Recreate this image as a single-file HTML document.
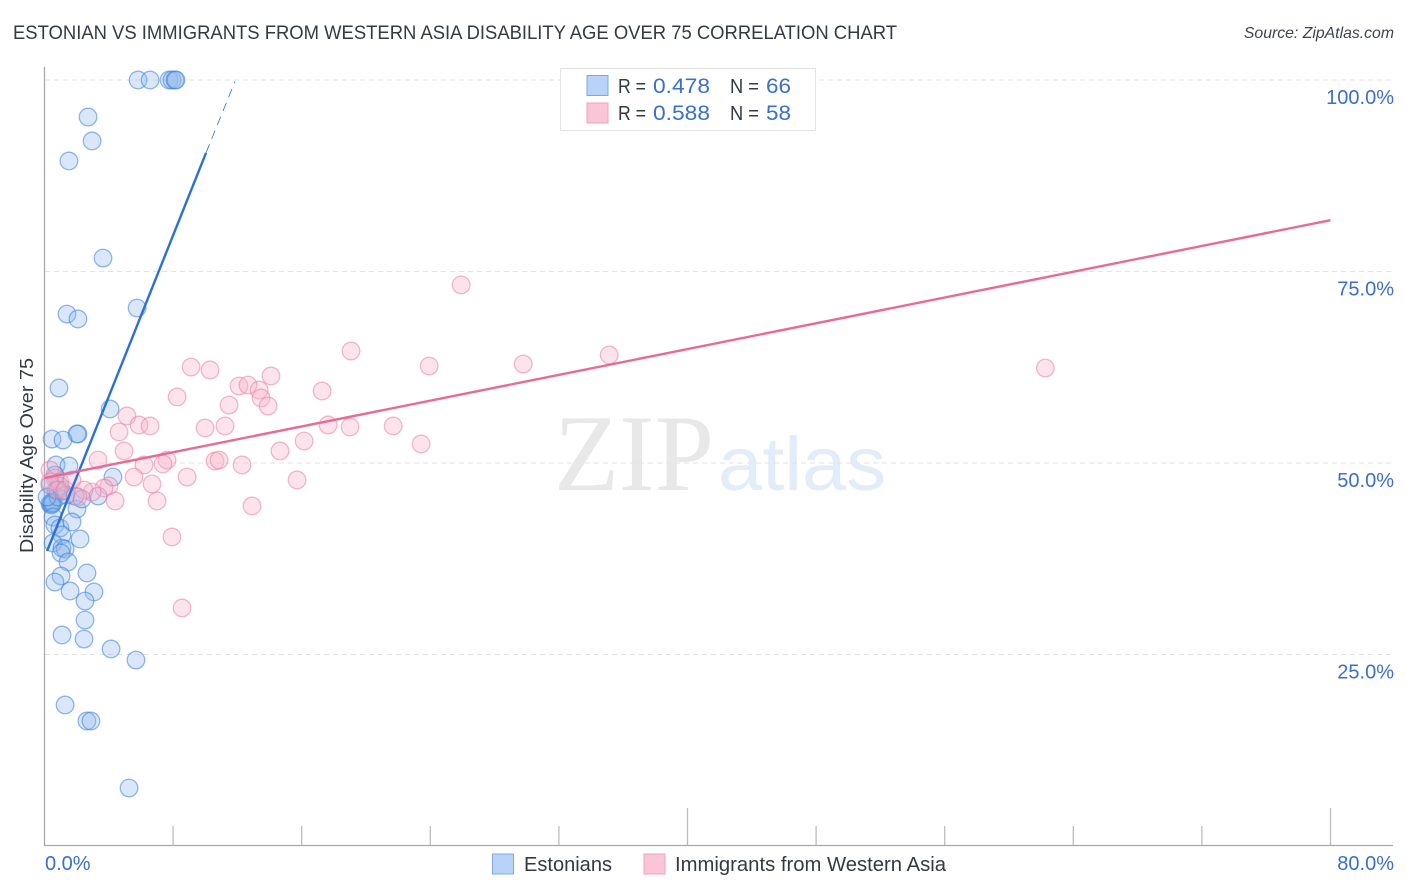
<!DOCTYPE html>
<html>
<head>
<meta charset="utf-8">
<style>
html,body{margin:0;padding:0;background:#fff;}
svg{display:block;}
text{font-family:"Liberation Sans",sans-serif;}
</style>
</head>
<body>
<svg id="chart" xmlns="http://www.w3.org/2000/svg" width="1406" height="892" viewBox="0 0 1406 892">
  <rect x="0" y="0" width="1406" height="892" fill="#ffffff"/>
  <text x="13" y="39" font-size="19.5" fill="#333a44" textLength="884" lengthAdjust="spacingAndGlyphs">ESTONIAN VS IMMIGRANTS FROM WESTERN ASIA DISABILITY AGE OVER 75 CORRELATION CHART</text>
  <text x="1394" y="38" font-size="15.8" font-style="italic" fill="#3d4450" text-anchor="end">Source: ZipAtlas.com</text>
  <g id="watermark">
    <text x="554" y="490" font-size="109" fill="#e8e8e8" style="font-family:'Liberation Serif',serif" textLength="160" lengthAdjust="spacingAndGlyphs">ZIP</text>
    <text x="718" y="490" font-size="76" fill="#e3ecf9" textLength="168" lengthAdjust="spacingAndGlyphs">atlas</text>
  </g>
  <g id="grid"></g>
  <g id="axes"></g>
  <g id="points-blue"></g>
  <g id="points-pink"></g>
  <g id="trends"></g>
  <g id="labels"></g>
  <text transform="translate(33,553) rotate(-90)" font-size="18.5" fill="#333a44" textLength="195" lengthAdjust="spacingAndGlyphs">Disability Age Over 75</text>

  <g>
    <rect x="560.5" y="68.5" width="255" height="62" fill="#ffffff" stroke="#e2e2e2" stroke-width="1"/>
    <rect x="587" y="75.5" width="21" height="20" fill="#b9d3f8" stroke="#7fa9dc" stroke-width="1"/>
    <rect x="587" y="103" width="21" height="20" fill="#fac5d7" stroke="#f0a3bb" stroke-width="1"/>
    <text x="618" y="93" font-size="20" fill="#333a44" textLength="28" lengthAdjust="spacingAndGlyphs">R =</text>
    <text x="653" y="93" font-size="21" fill="#3a6fd0" textLength="57" lengthAdjust="spacingAndGlyphs">0.478</text>
    <text x="730" y="93" font-size="20" fill="#333a44" textLength="29" lengthAdjust="spacingAndGlyphs">N =</text>
    <text x="766" y="93" font-size="21" fill="#3a6fd0" textLength="25" lengthAdjust="spacingAndGlyphs">66</text>
    <text x="618" y="120" font-size="20" fill="#333a44" textLength="28" lengthAdjust="spacingAndGlyphs">R =</text>
    <text x="653" y="120" font-size="21" fill="#3a6fd0" textLength="57" lengthAdjust="spacingAndGlyphs">0.588</text>
    <text x="730" y="120" font-size="20" fill="#333a44" textLength="29" lengthAdjust="spacingAndGlyphs">N =</text>
    <text x="766" y="120" font-size="21" fill="#3a6fd0" textLength="25" lengthAdjust="spacingAndGlyphs">58</text>
  </g>

  <g>
    <rect x="492.5" y="854" width="21" height="20" fill="#b9d3f8" stroke="#7fa9dc" stroke-width="1"/>
    <text x="524" y="871" font-size="20" fill="#333a44" textLength="88" lengthAdjust="spacingAndGlyphs">Estonians</text>
    <rect x="644" y="854" width="21" height="20" fill="#fac5d7" stroke="#f0a3bb" stroke-width="1"/>
    <text x="675" y="871" font-size="20" fill="#333a44" textLength="271" lengthAdjust="spacingAndGlyphs">Immigrants from Western Asia</text>
  </g>
</svg>
<script>
var yTickValues = [25, 50, 75, 100];
var yTickLabels = ["25.0%", "50.0%", "75.0%", "100.0%"];
var xTickValues = [8, 16, 24, 32, 40, 48, 56, 64, 72, 80];
var xMajorTicks = [40, 80];
var xEndLabels = ["0.0%", "80.0%"];

var estoniansX = [5.82,6.57,7.75,7.93,8.12,8.18,2.71,2.96,1.52,3.64,5.76,1.40,2.08,0.90,4.08,2.08,2.02,0.47,1.15,0.72,1.52,4.26,0.65,3.33,2.02,0.47,0.40,0.34,0.43,0.47,0.53,0.84,1.09,0.96,0.72,0.34,1.34,1.90,0.16,2.33,0.53,0.65,0.96,1.71,2.21,1.09,0.53,1.09,1.28,1.03,1.46,2.64,1.03,0.65,1.59,3.08,2.52,2.52,1.09,2.46,4.14,5.69,1.28,2.64,2.89,5.26];
var estoniansY = [100,100,100,100,100,100,95.17,92.04,89.43,76.76,70.23,69.45,68.80,59.79,57.05,53.79,53.79,53.13,53.00,49.74,49.61,48.17,48.43,45.69,43.99,44.91,44.78,44.65,44.52,44.65,44.78,45.56,46.34,47.00,46.47,47.13,45.82,45.69,45.56,45.30,42.95,41.91,41.51,42.30,40.08,40.60,39.56,38.90,38.77,38.25,37.08,35.64,35.25,34.46,33.29,33.16,31.98,29.50,27.55,27.02,25.72,24.28,18.41,16.32,16.32,7.57];

var immigrantsX = [25.92,19.07,35.13,23.93,29.78,62.26,9.12,10.30,14.09,12.10,12.66,13.35,17.27,8.25,13.47,13.91,11.48,5.13,5.88,6.57,4.64,9.99,11.23,17.64,19.01,21.69,23.43,16.15,14.65,4.95,3.33,7.62,7.37,6.19,10.61,10.86,12.29,8.87,5.57,6.69,15.71,4.01,3.70,2.96,2.46,4.39,7.00,12.91,7.93,8.56,0.34,0.65,0.96,0.34,0.84,1.28,1.71,2.08];
var immigrantsY = [73.25,64.62,64.10,62.66,62.92,62.40,62.53,62.14,61.36,60.05,60.18,59.53,59.40,58.62,58.49,57.44,57.57,56.14,54.96,54.83,54.05,54.57,54.83,54.96,54.70,54.83,52.48,52.87,51.57,51.57,50.39,50.39,49.87,49.74,50.26,50.39,49.74,48.17,48.17,47.26,47.78,47.00,46.74,46.21,46.47,45.04,45.04,44.39,40.34,31.07,49.09,48.04,47.52,47.52,46.47,46.47,47.78,45.56];

var estoniansTrendX = [0.16, 10.05];
var estoniansTrendY = [38.5, 90.5];
var estoniansTrendExtX = [10.05, 11.85];
var estoniansTrendExtY = [90.5, 99.8];
var immigrantsTrendX = [0, 80];
var immigrantsTrendY = [48.04, 81.7];

var SVGNS = "http://www.w3.org/2000/svg";
function xScale(v){ return 44.5 + v * (1330.5 - 44.5) / 80; }
function yScale(v){ return 846 - v * 7.66; }
function make(tag, attrs, parent){
  var el = document.createElementNS(SVGNS, tag);
  for (var k in attrs) el.setAttribute(k, attrs[k]);
  parent.appendChild(el);
  return el;
}

var grid = document.getElementById("grid");
yTickValues.forEach(function(v){
  var l = make("line", {x1:45, x2:1393, y1:yScale(v), y2:yScale(v), stroke:"#e3e3e3", "stroke-width":1, "stroke-dasharray":"5 4"}, grid);
  
  
});

var axes = document.getElementById("axes");
var yAxis = make("line", {x1:44.5, x2:44.5, y1:67, y2:846, stroke:"#a8a8a8", "stroke-width":1.3}, axes);


var xAxis = make("line", {x1:44, x2:1393, y1:845.5, y2:845.5, stroke:"#a8a8a8", "stroke-width":1.3}, axes);


xTickValues.forEach(function(v){
  var top = xMajorTicks.indexOf(v) >= 0 ? 808 : 826;
  var t = make("line", {x1:xScale(v), x2:xScale(v), y1:top, y2:845, stroke:"#bdbdbd", "stroke-width":1.3}, axes);
  
  
});

function drawPoints(groupId, xs, ys, fill, stroke, name){
  var g = document.getElementById(groupId);
  xs.forEach(function(x, i){
    var c = make("circle", {cx:xScale(x), cy:yScale(ys[i]), r:8.8, fill:fill, "fill-opacity":0.34, stroke:stroke, "stroke-opacity":0.55, "stroke-width":1.3}, g);
    
    
  });
}
drawPoints("points-blue", estoniansX, estoniansY, "#8fb8ee", "#3d80db", "estonians-point");
drawPoints("points-pink", immigrantsX, immigrantsY, "#f8afc6", "#ea7fa3", "immigrants-point");

var trends = document.getElementById("trends");
var t1 = make("line", {x1:xScale(estoniansTrendX[0]), y1:yScale(estoniansTrendY[0]), x2:xScale(estoniansTrendX[1]), y2:yScale(estoniansTrendY[1]), stroke:"#2b70d8", "stroke-width":2.4}, trends);


var t2 = make("line", {x1:xScale(estoniansTrendExtX[0]), y1:yScale(estoniansTrendExtY[0]), x2:xScale(estoniansTrendExtX[1]), y2:yScale(estoniansTrendExtY[1]), stroke:"#2b70d8", "stroke-width":0.8, "stroke-dasharray":"9 6"}, trends);


var t3 = make("line", {x1:xScale(immigrantsTrendX[0]), y1:yScale(immigrantsTrendY[0]), x2:xScale(immigrantsTrendX[1]), y2:yScale(immigrantsTrendY[1]), stroke:"#e96a98", "stroke-width":2.4}, trends);



var labels = document.getElementById("labels");
yTickValues.forEach(function(v, i){
  var t = make("text", {x:1394, y:yScale(v) + 24, "font-size":20, fill:"#3a6fd0", "text-anchor":"end"}, labels);
  t.textContent = yTickLabels[i];
  
  
});
var x0 = make("text", {x:45, y:870, "font-size":20, fill:"#3a6fd0"}, labels);
x0.textContent = xEndLabels[0];


var x1 = make("text", {x:1394, y:870, "font-size":20, fill:"#3a6fd0", "text-anchor":"end"}, labels);
x1.textContent = xEndLabels[1];


</script>
</body>
</html>
